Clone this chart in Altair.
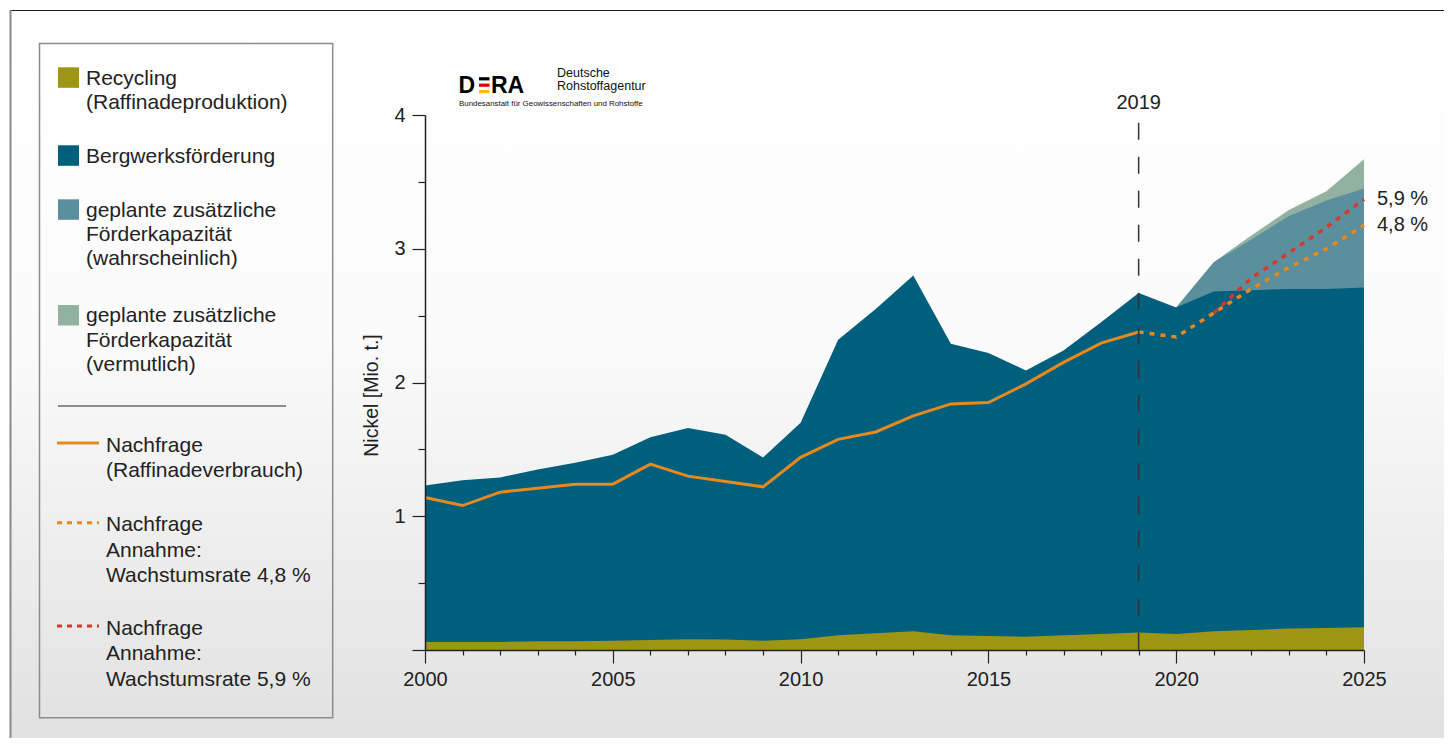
import altair as alt
import pandas as pd

# ---------------- data ----------------
years = list(range(2000, 2026))
recycling = [0.06, 0.06, 0.06, 0.065, 0.065, 0.07, 0.075, 0.08, 0.078, 0.07,
             0.08, 0.11, 0.125, 0.14, 0.11, 0.105, 0.10, 0.11, 0.12, 0.13,
             0.12, 0.14, 0.15, 0.16, 0.165, 0.17]
mine_top = [1.23, 1.27, 1.29, 1.35, 1.40, 1.46, 1.59, 1.66, 1.61, 1.44,
            1.70, 2.32, 2.55, 2.80, 2.29, 2.22, 2.09, 2.24, 2.45, 2.67,
            2.56, 2.68, 2.69, 2.70, 2.70, 2.71]
proj_years = [2020, 2021, 2022, 2023, 2024, 2025]
probable_top = [2.56, 2.90, 3.07, 3.245, 3.36, 3.45]
possible_top = [2.56, 2.90, 3.10, 3.29, 3.43, 3.67]
demand_years = list(range(2000, 2020))
demand = [1.14, 1.08, 1.18, 1.21, 1.24, 1.24, 1.39, 1.30, 1.26, 1.22,
          1.44, 1.575, 1.63, 1.75, 1.84, 1.85, 1.99, 2.15, 2.295, 2.378]
dem48_years = [2019, 2020, 2021, 2022, 2023, 2024, 2025]
dem48 = [2.378, 2.34, 2.52, 2.70, 2.86, 3.00, 3.175]
dem59_years = [2021, 2022, 2023, 2024, 2025]
dem59 = [2.52, 2.78, 2.97, 3.16, 3.37]
end_labels = ["5,9 %", "4,8 %"]
marker_year = 2019

y_ticks = [0, 0.5, 1, 1.5, 2, 2.5, 3, 3.5, 4]

legend_area_labels = ["Recycling\n(Raffinadeproduktion)",
                      "Bergwerksförderung",
                      "geplante zusätzliche\nFörderkapazität\n(wahrscheinlich)",
                      "geplante zusätzliche\nFörderkapazität\n(vermutlich)"]
legend_line_labels = ["Nachfrage\n(Raffinadeverbrauch)",
                      "Nachfrage\nAnnahme:\nWachstumsrate 4,8 %",
                      "Nachfrage\nAnnahme:\nWachstumsrate 5,9 %"]

# ---------------- styles ----------------
FONT = "Liberation Sans"
TXT = "#222222"
C_RECY = "#9c9614"
C_MINE = "#005f7c"
C_PROB = "#5b8f9e"
C_POSS = "#92b1a0"
C_DEM = "#e8891d"
C_RED = "#d23a2b"

W, H = 939, 535

xscale = alt.Scale(domain=[2000, 2025], nice=False, zero=False)
yscale = alt.Scale(domain=[0, 4], nice=False)
xaxis = alt.Axis(values=years, format="d", title="", zindex=2,
                 labelExpr="datum.value % 5 === 0 ? datum.label : ''",
                 tickSize={"condition": {"test": "datum.value % 5 === 0", "value": 13}, "value": 5},
                 labelFontSize=20, labelFont=FONT, labelColor=TXT, labelPadding=6,
                 domainColor=TXT, domainWidth=1.5, tickColor=TXT, tickWidth=1.2,
                 grid=False, labelFlush=False, labelOverlap=False)
yaxis = alt.Axis(values=y_ticks, title="Nickel [Mio. t.]", zindex=2,
                 labelExpr="datum.value >= 1 && datum.value % 1 === 0 ? format(datum.value, 'd') : ''",
                 tickSize={"condition": {"test": "datum.value % 1 === 0", "value": 13}, "value": 7},
                 labelFontSize=20, labelFont=FONT, labelColor=TXT, labelPadding=7,
                 domainColor=TXT, domainWidth=1.5, tickColor=TXT, tickWidth=1.2,
                 grid=False, labelOverlap=False, labelFlush=False,
                 titleFont=FONT, titleFontSize=19.5, titleFontWeight="normal", titleColor=TXT,
                 titleAngle=270, titleAlign="center", titleBaseline="alphabetic",
                 titleX=-48, titleY=280)


def X(field="year"):
    return alt.X(f"{field}:Q", scale=xscale, axis=xaxis)


def Y(field):
    return alt.Y(f"{field}:Q", scale=yscale, axis=yaxis)


one = pd.DataFrame({"k": [0]})
df_hist = pd.DataFrame({"year": years, "recy": recycling, "mine": mine_top})
df_proj = pd.DataFrame({"year": proj_years, "prob": probable_top, "poss": possible_top})
df_dem = pd.DataFrame({"year": demand_years, "v": demand})
df_48 = pd.DataFrame({"year": dem48_years, "v": dem48})
df_59 = pd.DataFrame({"year": dem59_years, "v": dem59})
df_end = pd.DataFrame({"year": [2025, 2025], "v": [dem59[-1], dem48[-1]], "label": end_labels})
df_mark = pd.DataFrame({"year": [marker_year], "label": [str(marker_year)]})

layers = []

# background with gradient and frame
grad = alt.LinearGradient(gradient="linear",
                          stops=[alt.GradientStop(offset=0, color="#ffffff"),
                                 alt.GradientStop(offset=0.45, color="#fbfbfb"),
                                 alt.GradientStop(offset=1, color="#e1e1e1")],
                          x1=0, x2=0, y1=0, y2=1)
layers.append(alt.Chart(one).mark_rect(fill=grad).encode(
    x=alt.value(-415), x2=alt.value(W + 80), y=alt.value(-105), y2=alt.value(H + 90)))
layers.append(alt.Chart(one).mark_rule(color="#1a1a1a", strokeWidth=1).encode(
    x=alt.value(-415), x2=alt.value(W + 80), y=alt.value(-104.5)))
layers.append(alt.Chart(one).mark_rule(color="#8a8a8a", strokeWidth=2).encode(
    x=alt.value(-414.5), y=alt.value(-105), y2=alt.value(H + 90)))

# areas
layers.append(alt.Chart(df_proj).mark_area(color=C_POSS).encode(x=X(), y=Y("poss")))
layers.append(alt.Chart(df_proj).mark_area(color=C_PROB).encode(x=X(), y=Y("prob")))
layers.append(alt.Chart(df_hist).mark_area(color=C_MINE).encode(x=X(), y=Y("mine")))
layers.append(alt.Chart(df_hist).mark_area(color=C_RECY).encode(x=X(), y=Y("recy")))

# demand lines
layers.append(alt.Chart(df_dem).mark_line(color=C_DEM, strokeWidth=3).encode(x=X(), y=Y("v")))
layers.append(alt.Chart(df_59).mark_line(color=C_RED, strokeWidth=3.5, strokeDash=[5, 6]).encode(x=X(), y=Y("v")))
layers.append(alt.Chart(df_48).mark_line(color=C_DEM, strokeWidth=3.5, strokeDash=[5, 6]).encode(x=X(), y=Y("v")))

# 2019 marker
layers.append(alt.Chart(df_mark).mark_rule(color="#333333", strokeWidth=1.5, strokeDash=[17, 17]).encode(
    x=X(), y=alt.value(7.7), y2=alt.value(H)))
layers.append(alt.Chart(df_mark).mark_text(font=FONT, fontSize=20, color=TXT, align="center",
                                           baseline="alphabetic").encode(
    x=X(), y=alt.value(-5.7), text="label:N"))

# end labels
layers.append(alt.Chart(df_end).mark_text(font=FONT, fontSize=20, color=TXT, align="left",
                                          baseline="middle", dx=13).encode(
    x=X(), y=Y("v"), text="label:N"))

# logo
layers.append(alt.Chart(one).mark_text(text="D", font=FONT, fontSize=23, fontWeight="bold",
                                       color="#000000", align="left", baseline="alphabetic").encode(
    x=alt.value(33.5), y=alt.value(-21.8)))
layers.append(alt.Chart(one).mark_text(text="RA", font=FONT, fontSize=23, fontWeight="bold",
                                       color="#000000", align="left", baseline="alphabetic").encode(
    x=alt.value(66), y=alt.value(-21.8)))
for yy, cc in [(-36.2, "#000000"), (-29.8, "#dd0000"), (-23.4, "#f5c000")]:
    layers.append(alt.Chart(one).mark_rule(color=cc, strokeWidth=3.2).encode(
        x=alt.value(54), x2=alt.value(64.5), y=alt.value(yy)))
layers.append(alt.Chart(one).mark_text(text="Deutsche", font=FONT, fontSize=12.5, color="#111111",
                                       align="left", baseline="alphabetic").encode(
    x=alt.value(132), y=alt.value(-38.3)))
layers.append(alt.Chart(one).mark_text(text="Rohstoffagentur", font=FONT, fontSize=12.5, color="#111111",
                                       align="left", baseline="alphabetic").encode(
    x=alt.value(132), y=alt.value(-25)))
layers.append(alt.Chart(one).mark_text(text="Bundesanstalt für Geowissenschaften und Rohstoffe", font=FONT,
                                       fontSize=7.9, color="#111111", align="left",
                                       baseline="alphabetic").encode(
    x=alt.value(34), y=alt.value(-9.5)))

# legend box
layers.append(alt.Chart(one).mark_rect(fill="transparent", stroke="#8c8c8c", strokeWidth=1.5).encode(
    x=alt.value(-385.5), x2=alt.value(-92.3), y=alt.value(-71.5), y2=alt.value(602.7)))
area_colors = [C_RECY, C_MINE, C_PROB, C_POSS]
area_tops = [-47.7, 30.3, 84.3, 190.0]
for lab, col, top in zip(legend_area_labels, area_colors, area_tops):
    layers.append(alt.Chart(one).mark_rect(color=col).encode(
        x=alt.value(-367), x2=alt.value(-346), y=alt.value(top), y2=alt.value(top + 20.5)))
    layers.append(alt.Chart(one).mark_text(text=lab, lineBreak="\n", lineHeight=24.4, font=FONT,
                                           fontSize=21, color=TXT, align="left",
                                           baseline="alphabetic").encode(
        x=alt.value(-339), y=alt.value(top + 17.4)))
layers.append(alt.Chart(one).mark_rule(color="#222222", strokeWidth=1).encode(
    x=alt.value(-367), x2=alt.value(-139), y=alt.value(291)))
line_colors = [C_DEM, C_DEM, C_RED]
line_dash = [[1, 0], [5, 5], [5, 5]]
line_ys = [328.0, 407.7, 511.0]
for lab, col, dash, ly in zip(legend_line_labels, line_colors, line_dash, line_ys):
    layers.append(alt.Chart(one).mark_rule(color=col, strokeWidth=3, strokeDash=dash).encode(
        x=alt.value(-368), x2=alt.value(-326), y=alt.value(ly)))
    layers.append(alt.Chart(one).mark_text(text=lab, lineBreak="\n", lineHeight=25.5, font=FONT,
                                           fontSize=21, color=TXT, align="left",
                                           baseline="alphabetic").encode(
        x=alt.value(-319), y=alt.value(ly + 8.5)))

chart = alt.layer(*layers).properties(
    width=W, height=H,
    autosize=alt.AutoSizeParams(type="none"),
    padding={"left": 417, "top": 107, "right": 80, "bottom": 88},
).configure_view(strokeWidth=0).configure(font=FONT)

chart.save("out.html", embed_options={"renderer": "svg", "actions": False})
